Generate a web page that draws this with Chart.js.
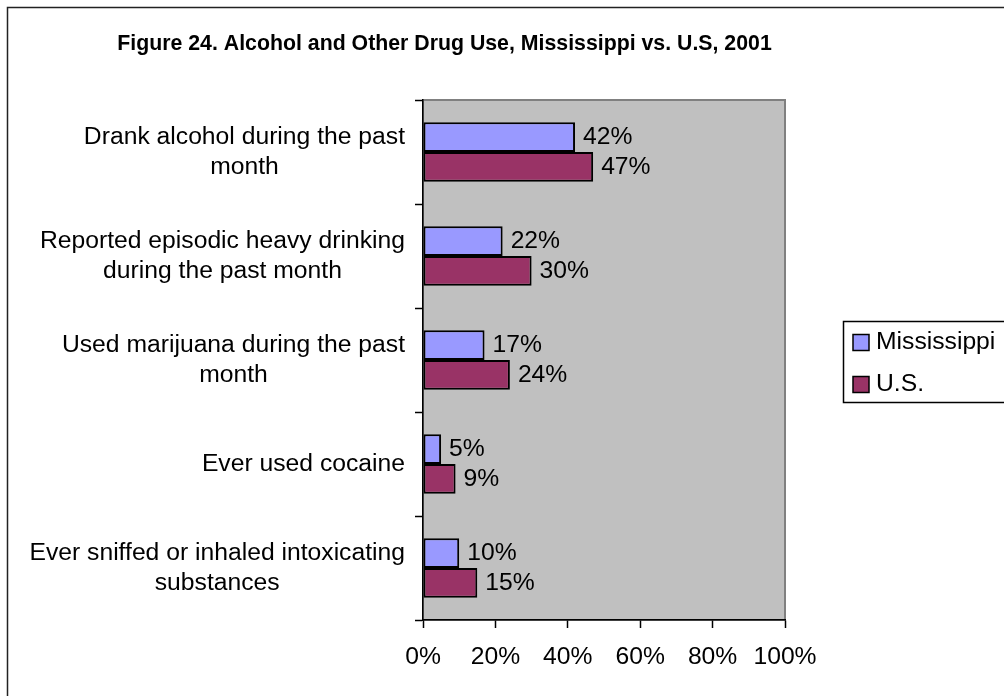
<!DOCTYPE html>
<html lang="en">
<head>
  <meta charset="UTF-8" />
  <title>Alcohol and Other Drug Use, Mississippi vs. U.S, 2001</title>
  <script src="https://cdn.jsdelivr.net/npm/chart.js"></script>
  <style>
    body {
      margin: 0;
      background: #fff;
    }
    canvas {
      display: block;
    }
  </style>
</head>
<body>

  <canvas id="drugChart" width="1004" height="696"></canvas>

  <script>
    const chartTitle = 'Figure 24. Alcohol and Other Drug Use, Mississippi vs. U.S, 2001';

    const categories = [
      ['Drank alcohol during the past', 'month'],
      ['Reported episodic heavy drinking', 'during the past month'],
      ['Used marijuana during the past', 'month'],
      ['Ever used cocaine'],
      ['Ever sniffed or inhaled intoxicating', 'substances']
    ];

    const mississippi = [42, 22, 17, 5, 10];
    const us = [47, 30, 24, 9, 15];

    const xTicks = [0, 20, 40, 60, 80, 100];

    const FONT = "'Liberation Sans', Arial, sans-serif";
    const TEXT_SIZE = 24.7;
    Chart.defaults.font.family = FONT;
    Chart.defaults.font.size = TEXT_SIZE;
    Chart.defaults.color = '#000';

    // grey plot box, outer frame and the title
    const frame = {
      id: 'frame',
      beforeDraw(chart) {
        const { ctx, chartArea: a } = chart;
        ctx.save();
        ctx.fillStyle = '#fff';
        ctx.fillRect(0, 0, chart.width, chart.height);

        ctx.strokeStyle = '#222';
        ctx.lineWidth = 1.5;
        ctx.strokeRect(7.5, 7.5, chart.width + 20, chart.height + 20);

        ctx.fillStyle = '#c0c0c0';
        ctx.fillRect(a.left, a.top, a.right - a.left, a.bottom - a.top);
        ctx.strokeStyle = '#808080';
        ctx.lineWidth = 2;
        ctx.strokeRect(a.left, a.top, a.right - a.left, a.bottom - a.top);

        ctx.fillStyle = '#000';
        ctx.font = 'bold 21.3px ' + FONT;
        ctx.textAlign = 'center';
        ctx.textBaseline = 'middle';
        ctx.fillText(chartTitle, 444.5, 44);
        ctx.restore();
      }
    };

    // category names: each block right-aligned to the axis, lines centred within it
    const categoryLabels = {
      id: 'categoryLabels',
      afterDraw(chart) {
        const { ctx, chartArea: a } = chart;
        const yScale = chart.scales.y;
        ctx.save();
        ctx.font = TEXT_SIZE + 'px ' + FONT;
        ctx.fillStyle = '#000';
        ctx.textAlign = 'center';
        ctx.textBaseline = 'middle';
        categories.forEach((lines, i) => {
          const widest = Math.max(...lines.map(l => ctx.measureText(l).width));
          const cx = a.left - 18 - widest / 2;
          const cy = yScale.getPixelForValue(i);
          lines.forEach((line, k) => {
            ctx.fillText(line, cx, cy + (k - (lines.length - 1) / 2) * 30);
          });
        });
        ctx.restore();
      }
    };

    // percentage labels to the right of each bar
    const valueLabels = {
      id: 'valueLabels',
      afterDatasetsDraw(chart) {
        const { ctx } = chart;
        ctx.save();
        ctx.font = TEXT_SIZE + 'px ' + FONT;
        ctx.fillStyle = '#000';
        ctx.textAlign = 'left';
        ctx.textBaseline = 'middle';
        chart.data.datasets.forEach((ds, di) => {
          chart.getDatasetMeta(di).data.forEach((bar, i) => {
            ctx.fillText(ds.data[i] + '%', bar.x + 8, bar.y);
          });
        });
        ctx.restore();
      }
    };

    // boxed legend on the right
    const boxLegend = {
      id: 'boxLegend',
      afterDraw(chart) {
        const { ctx } = chart;
        ctx.save();
        ctx.strokeStyle = '#000';
        ctx.lineWidth = 1.5;
        ctx.strokeRect(843.5, 321.5, 200, 81);
        ctx.font = TEXT_SIZE + 'px ' + FONT;
        ctx.textAlign = 'left';
        ctx.textBaseline = 'middle';
        chart.data.datasets.forEach((ds, i) => {
          const cy = 342 + i * 42;
          ctx.fillStyle = ds.backgroundColor;
          ctx.fillRect(853, cy - 7.5, 16, 16);
          ctx.lineWidth = 1.5;
          ctx.strokeRect(853, cy - 7.5, 16, 16);
          ctx.fillStyle = '#000';
          ctx.fillText(ds.label, 876, cy);
        });
        ctx.restore();
      }
    };

    new Chart(document.getElementById('drugChart'), {
      type: 'bar',
      data: {
        labels: categories,
        datasets: [{
          label: 'Mississippi',
          data: mississippi,
          backgroundColor: '#9999ff',
          borderColor: '#000',
          borderWidth: 2,
          borderSkipped: false,
          categoryPercentage: 0.57,
          barPercentage: 1
        }, {
          label: 'U.S.',
          data: us,
          backgroundColor: '#993366',
          borderColor: '#000',
          borderWidth: 2,
          borderSkipped: false,
          categoryPercentage: 0.57,
          barPercentage: 1
        }]
      },
      options: {
        indexAxis: 'y',
        responsive: false,
        animation: false,
        layout: {
          padding: { left: 415, right: 219, top: 100, bottom: 0 }
        },
        plugins: {
          legend: { display: false },
          title: { display: false },
          tooltip: { enabled: false }
        },
        scales: {
          x: {
            min: 0,
            max: 100,
            afterBuildTicks(scale) {
              scale.ticks = xTicks.map(v => ({ value: v }));
            },
            afterFit(scale) {
              scale.height = 76;
            },
            ticks: {
              padding: 14,
              callback: v => v + '%'
            },
            grid: {
              drawOnChartArea: false,
              tickLength: 8,
              tickWidth: 1.5,
              tickColor: '#000'
            },
            border: { color: '#000', width: 1.5 }
          },
          y: {
            ticks: { display: false },
            afterFit(scale) {
              scale.width = 8;
            },
            grid: {
              offset: true,
              drawOnChartArea: false,
              tickLength: 8,
              tickWidth: 1.5,
              tickColor: '#000'
            },
            border: { color: '#000', width: 1.5 }
          }
        }
      },
      plugins: [frame, categoryLabels, valueLabels, boxLegend]
    });
  </script>

</body>
</html>
